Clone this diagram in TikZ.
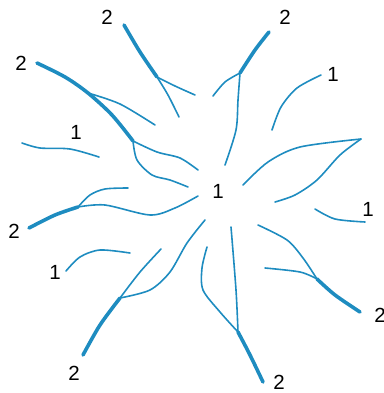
\documentclass[tikz,border=0pt]{standalone}
\usepackage{fontspec}
\setmainfont{Liberation Sans}
\definecolor{fib}{RGB}{30,140,192}
\begin{document}
\begin{tikzpicture}[x=1pt,y=-1pt,
  fibthin/.style={draw=fib,line width=1.6pt,line cap=round},
  fibthick/.style={draw=fib,line width=3.6pt,line cap=round},
  lab/.style={font=\fontsize{20.5}{24}\selectfont,text=black,inner sep=0pt}]
\useasboundingbox (0,0) rectangle (383,393);
\clip (0,0) rectangle (383,393);
% labels
\node[lab] (a1) at (107,17) {2};
\node[lab] (a2) at (285,17) {2};
\node[lab] (a3) at (21,63) {2};
\node[lab] (a4) at (333,74) {1};
\node[lab] (a5) at (76,132) {1};
\node[lab] (a6) at (218,191) {1};
\node[lab] (a7) at (368,209) {1};
\node[lab] (a8) at (14,231) {2};
\node[lab] (a9) at (55,272) {1};
\node[lab] (a10) at (380,315) {2};
\node[lab] (a11) at (74,373) {2};
\node[lab] (a12) at (279,382) {2};
% top-left group
\draw[fibthick] plot[smooth] coordinates {(124,25) (140,52) (157,77)};
\draw[fibthin] plot[smooth] coordinates {(157,77) (168,95) (179,117)};
\draw[fibthin] plot[smooth] coordinates {(157,77) (175,86) (195,95)};
% left-top group
\draw[fibthick] plot[smooth] coordinates {(37,63) (65,77) (88,93) (112,115) (133,141)};
\draw[fibthin] plot[smooth] coordinates {(88,93) (120,104) (155,125)};
\draw[fibthin] plot[smooth] coordinates {(133,141) (157,152) (180,158) (198,170)};
\draw[fibthin] plot[smooth] coordinates {(133,141) (137,160) (152,175) (170,180) (188,187)};
% "1" left
\draw[fibthin] plot[smooth] coordinates {(22,143) (40,148) (70,149) (99,157)};
% top group
\draw[fibthick] plot[smooth] coordinates {(269,32) (255,50) (240,73)};
\draw[fibthin] plot[smooth] coordinates {(240,73) (225,82) (213,96)};
\draw[fibthin] plot[smooth] coordinates {(240,73) (238,100) (236,130) (225,165)};
% "1" upper right
\draw[fibthin] plot[smooth] coordinates {(321,75) (297,88) (281,107) (272,130)};
% leaf
\draw[fibthin] plot[smooth] coordinates {(243,185) (268,162) (300,147) (361,139)};
\draw[fibthin] plot[smooth] coordinates {(361,139) (340,155) (317,180) (295,195) (275,202)};
% "1" right
\draw[fibthin] plot[smooth] coordinates {(315,209) (335,219) (365,222)};
% left "2" group
\draw[fibthick] plot[smooth] coordinates {(29,228) (55,215) (78,207)};
\draw[fibthin] plot[smooth] coordinates {(78,207) (90,195) (105,189) (128,188)};
\draw[fibthin] plot[smooth] coordinates {(78,207) (105,205) (150,215) (175,208) (198,196)};
% "1" lower left
\draw[fibthin] plot[smooth] coordinates {(66,271) (80,257) (100,250) (130,253)};
% bottom-left group
\draw[fibthick] plot[smooth] coordinates {(83,355) (100,325) (120,298)};
\draw[fibthin] plot[smooth] coordinates {(120,298) (140,272) (161,249)};
\draw[fibthin] plot[smooth] coordinates {(120,298) (150,290) (170,272) (187,243) (205,220)};
% bottom group
\draw[fibthick] plot[smooth] coordinates {(263,382) (250,355) (238,332)};
\draw[fibthin] plot[smooth] coordinates {(238,332) (236,290) (231,227)};
\draw[fibthin] plot[smooth] coordinates {(238,332) (220,312) (203,290) (202,268) (207,247)};
% right "2" group
\draw[fibthick] plot[smooth] coordinates {(360,312) (335,295) (317,279)};
\draw[fibthin] plot[smooth] coordinates {(317,279) (300,272) (265,268)};
\draw[fibthin] plot[smooth] coordinates {(317,279) (303,258) (287,240) (258,225)};
\end{tikzpicture}
\end{document}
